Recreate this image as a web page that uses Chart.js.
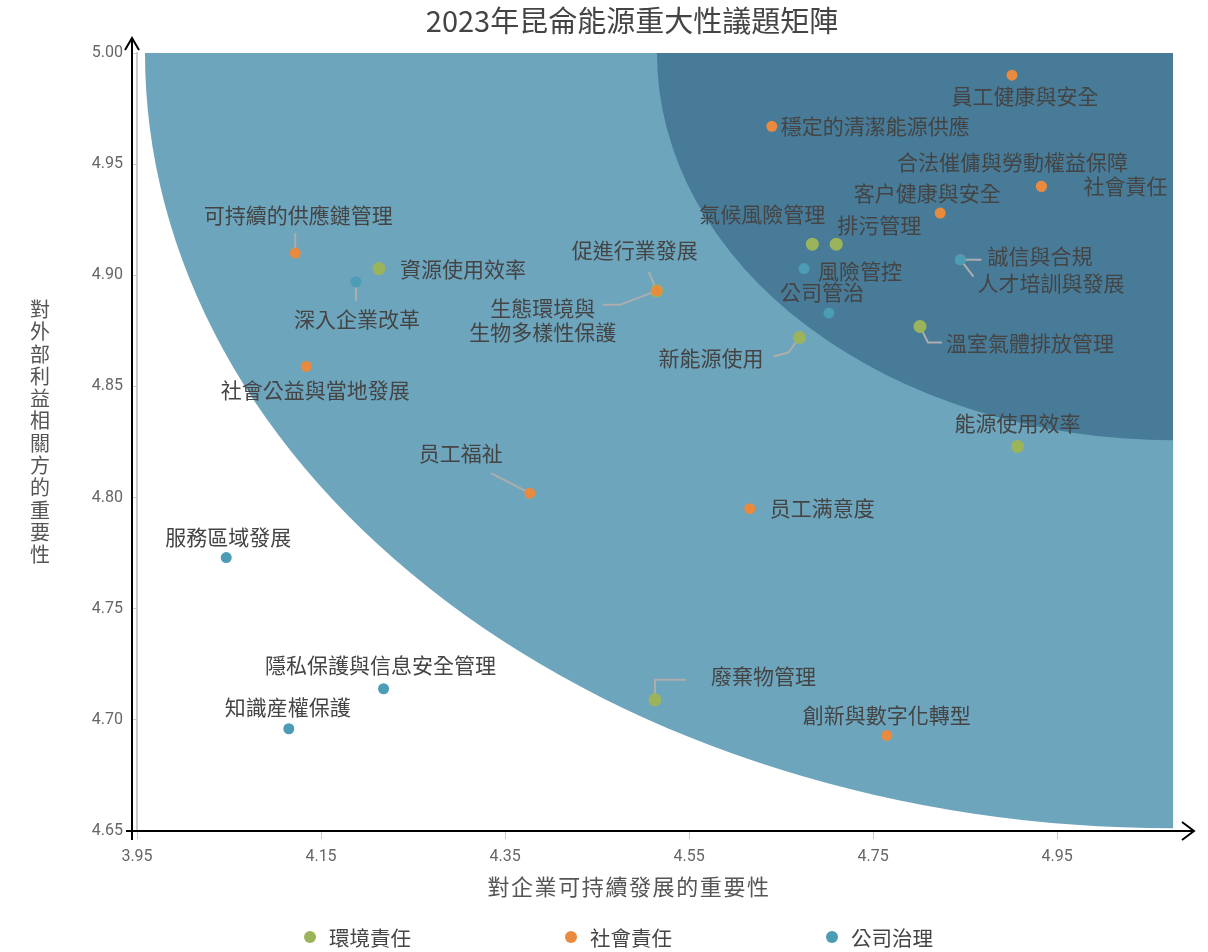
<!DOCTYPE html>
<html>
<head>
<meta charset="utf-8">
<title>2023年昆侖能源重大性議題矩陣</title>
<script src="https://cdn.jsdelivr.net/npm/chart.js@4/dist/chart.umd.min.js"></script>
<style>
  html, body { margin: 0; padding: 0; background: #fff; }
  #wrap { position: relative; width: 1208px; height: 952px; }
  #legend {
    position: absolute; left: 304px; top: 924px;
    display: flex; gap: 154px;
    font: 20.5px "Noto Sans CJK TC", sans-serif; color: #444;
  }
  #legend .item { display: flex; align-items: center; line-height: 26px; }
  #legend .dot { width: 12px; height: 12px; border-radius: 50%; margin-right: 13px; }
</style>
</head>
<body>
<div id="wrap">
  <canvas id="matrixChart"></canvas>
  <div id="legend"></div>
</div>
<script>
// Axis ticks
const xTicks = [3.95, 4.15, 4.35, 4.55, 4.75, 4.95];
const yTicks = [4.65, 4.70, 4.75, 4.80, 4.85, 4.90, 4.95, 5.00];

// Categories (legend)
const categories = ['環境責任', '社會責任', '公司治理'];

// 環境責任
const envNames = ['資源使用效率', '氣候風險管理', '排污管理', '溫室氣體排放管理', '新能源使用', '能源使用效率', '廢棄物管理', '生態環境與生物多樣性保護'];
const envX = [4.213, 4.684, 4.710, 4.801, 4.670, 4.907, 4.513, 4.515];
const envY = [4.903, 4.914, 4.914, 4.877, 4.872, 4.823, 4.709, 4.893];

// 社會責任
const socNames = ['員工健康與安全', '穩定的清潔能源供應', '合法催傭與勞動權益保障', '社會責任', '客户健康與安全', '可持續的供應鏈管理', '促進行業發展', '社會公益與當地發展', '员工福祉', '员工满意度', '創新與數字化轉型', '人才培訓與發展'];
const socX = [4.901, 4.640, 4.933, 4.933, 4.823, 4.122, 4.515, 4.134, 4.377, 4.616, 4.765, 4.845];
const socY = [4.990, 4.967, 4.940, 4.940, 4.928, 4.910, 4.893, 4.859, 4.802, 4.795, 4.693, 4.907];

// 公司治理
const govNames = ['深入企業改革', '風險管控', '公司管治', '誠信與合規', '服務區域發展', '隱私保護與信息安全管理', '知識産權保護'];
const govX = [4.188, 4.675, 4.702, 4.845, 4.047, 4.218, 4.115];
const govY = [4.897, 4.903, 4.883, 4.907, 4.773, 4.714, 4.696];

// Background bands: quarter ellipses around the top-right corner,
// reaching these values on the top edge (x) and right edge (y)
const bandEdgeX = [3.9587, 4.5151];
const bandEdgeY = [4.6512, 4.8258];
const bandColors = ['#6da5bd', '#477b98'];

// Label placement, pixel offsets from the point (text centre unless align says otherwise)
const labelLayout = {
    '資源使用效率': { dx: 21, dy: 0, align: 'left' },
    '氣候風險管理': { dx: -50, dy: -30 },
    '排污管理': { dx: 43, dy: -19 },
    '溫室氣體排放管理': { dx: 26, dy: 17, align: 'left', leader: [[0, 0], [8, 16], [22, 16]] },
    '新能源使用': { dx: -36, dy: 20, align: 'right', leader: [[0, 0], [-11, 15], [-26, 19]] },
    '能源使用效率': { dx: 0, dy: -23 },
    '廢棄物管理': { dx: 56, dy: -24, align: 'left', leader: [[0, 0], [0, -20], [31, -20]] },
    '生態環境與生物多樣性保護': { dx: -114, dy: 29, lines: ['生態環境與', '生物多樣性保護'], leader: [[0, 0], [-37, 14], [-54, 14]] },
    '員工健康與安全': { dx: 13, dy: 21 },
    '穩定的清潔能源供應': { dx: 9, dy: 0, align: 'left' },
    '合法催傭與勞動權益保障': { dx: -29, dy: -24 },
    '社會責任': { dx: 42, dy: 0, align: 'left' },
    '客户健康與安全': { dx: -13, dy: -20 },
    '可持續的供應鏈管理': { dx: 3, dy: -38, leader: [[0, 0], [0, -20]] },
    '促進行業發展': { dx: -22, dy: -41, leader: [[0, 0], [-8, -19]] },
    '社會公益與當地發展': { dx: 9, dy: 24 },
    '员工福祉': { dx: -69, dy: -40, leader: [[0, 0], [-39, -20]] },
    '员工满意度': { dx: 20, dy: -1, align: 'left' },
    '創新與數字化轉型': { dx: 0, dy: -20 },
    '人才培訓與發展': { dx: 17, dy: 23, align: 'left', leader: [[0, 0], [13, 17]] },
    '深入企業改革': { dx: 1, dy: 37, leader: [[0, 0], [0, 19]] },
    '風險管控': { dx: 14, dy: 2, align: 'left' },
    '公司管治': { dx: -7, dy: -21 },
    '誠信與合規': { dx: 27, dy: -4, align: 'left', leader: [[0, 0], [21, 0]] },
    '服務區域發展': { dx: 2, dy: -21 },
    '隱私保護與信息安全管理': { dx: -3, dy: -24 },
    '知識産權保護': { dx: -1, dy: -22 },
};

const green = '#9bb45b';
const orange = '#e98a3f';
const blue = '#4b9cb4';
const textColor = '#444';
const cjkFont = '"Noto Sans CJK TC", "Noto Sans CJK SC", sans-serif';

function toPoints(xs, ys) {
    return xs.map((x, i) => ({ x: x, y: ys[i] }));
}

function categorySet(label, names, xs, ys, color, radius, order) {
    return {
        label: label,
        names: names,
        data: toPoints(xs, ys),
        backgroundColor: color,
        borderColor: color,
        pointRadius: radius,
        pointHoverRadius: radius,
        pointBorderWidth: 0,
        order: order,
    };
}

function drawBands(chart) {
    const ctx = chart.ctx;
    const area = chart.chartArea;
    const xs = chart.scales.x, ys = chart.scales.y;
    const cx = xs.getPixelForValue(xs.max);
    const cy = ys.getPixelForValue(ys.max);
    ctx.save();
    ctx.beginPath();
    ctx.rect(area.left, area.top, area.right - area.left, area.bottom - area.top);
    ctx.clip();
    bandEdgeX.forEach((ex, i) => {
        const rx = cx - xs.getPixelForValue(ex);
        const ry = ys.getPixelForValue(bandEdgeY[i]) - cy;
        ctx.beginPath();
        ctx.ellipse(cx, cy, rx, ry, 0, 0, Math.PI * 2);
        ctx.fillStyle = bandColors[i];
        ctx.fill();
    });
    ctx.restore();
}

function drawLeaders(chart) {
    const ctx = chart.ctx;
    ctx.save();
    ctx.strokeStyle = '#adadad';
    ctx.lineWidth = 2;
    chart.data.datasets.forEach((ds, i) => {
        const meta = chart.getDatasetMeta(i);
        ds.names.forEach((name, j) => {
            const lay = labelLayout[name];
            const el = meta.data[j];
            if (!lay || !lay.leader || !el) return;
            ctx.beginPath();
            lay.leader.forEach((p, k) => {
                if (k === 0) ctx.moveTo(el.x + p[0], el.y + p[1]);
                else ctx.lineTo(el.x + p[0], el.y + p[1]);
            });
            ctx.stroke();
        });
    });
    ctx.restore();
}

function drawLabels(chart) {
    const ctx = chart.ctx;
    ctx.save();
    ctx.font = '21px ' + cjkFont;
    ctx.fillStyle = textColor;
    ctx.textBaseline = 'middle';
    chart.data.datasets.forEach((ds, i) => {
        const meta = chart.getDatasetMeta(i);
        ds.names.forEach((name, j) => {
            const lay = labelLayout[name] || { dx: 0, dy: -20 };
            const el = meta.data[j];
            const lines = lay.lines || [name];
            ctx.textAlign = lay.align || 'center';
            lines.forEach((line, k) => {
                const off = (k - (lines.length - 1) / 2) * 24;
                ctx.fillText(line, el.x + lay.dx, el.y + lay.dy + off);
            });
        });
    });
    ctx.restore();
}

function drawAxesAndTitles(chart) {
    const ctx = chart.ctx;
    const { left, right, top, bottom } = chart.chartArea;
    const ax = left - 5;
    ctx.save();
    ctx.strokeStyle = '#000';
    ctx.lineWidth = 2;
    // y axis with arrow
    ctx.beginPath();
    ctx.moveTo(ax, bottom + 9);
    ctx.lineTo(ax, top - 15);
    ctx.stroke();
    ctx.beginPath();
    ctx.moveTo(ax - 7, top - 3);
    ctx.lineTo(ax, top - 15);
    ctx.lineTo(ax + 7, top - 3);
    ctx.stroke();
    // x axis with arrow
    ctx.beginPath();
    ctx.moveTo(ax - 6, bottom);
    ctx.lineTo(right + 21, bottom);
    ctx.stroke();
    ctx.beginPath();
    ctx.moveTo(right + 9, bottom - 9);
    ctx.lineTo(right + 21, bottom);
    ctx.lineTo(right + 9, bottom + 9);
    ctx.stroke();

    // axis titles
    ctx.fillStyle = '#555';
    ctx.textAlign = 'center';
    ctx.textBaseline = 'middle';
    ctx.font = '22px ' + cjkFont;
    ctx.letterSpacing = '1.6px';
    ctx.fillText('對企業可持續發展的重要性', 629, 887);
    ctx.letterSpacing = '0px';
    ctx.font = '20px ' + cjkFont;
    const yTitle = Array.from('對外部利益相關方的重要性');
    yTitle.forEach((ch, k) => {
        ctx.fillText(ch, 40, 432 + (k - (yTitle.length - 1) / 2) * 22.3);
    });
    ctx.restore();
}

const matrixDecor = {
    id: 'matrixDecor',
    beforeDatasetsDraw(chart) {
        drawBands(chart);
        drawLeaders(chart);
    },
    afterDatasetsDraw(chart) {
        drawLabels(chart);
    },
    afterDraw(chart) {
        drawAxesAndTitles(chart);
    },
};

const htmlLegend = {
    id: 'htmlLegend',
    afterUpdate(chart) {
        const box = document.getElementById('legend');
        box.innerHTML = '';
        const items = chart.options.plugins.legend.labels.generateLabels(chart)
            .sort((a, b) => a.datasetIndex - b.datasetIndex);
        items.forEach(it => {
            const item = document.createElement('div');
            item.className = 'item';
            const dot = document.createElement('span');
            dot.className = 'dot';
            dot.style.background = it.fillStyle;
            const txt = document.createElement('span');
            txt.textContent = it.text;
            item.appendChild(dot);
            item.appendChild(txt);
            box.appendChild(item);
        });
    },
};

const chart = new Chart(document.getElementById('matrixChart'), {
    type: 'scatter',
    data: {
        datasets: [
            categorySet(categories[0], envNames, envX, envY, green, 6.5, 3),
            categorySet(categories[1], socNames, socX, socY, orange, 5.5, 2),
            categorySet(categories[2], govNames, govX, govY, blue, 5.5, 1),
        ],
    },
    options: {
        responsive: true,
        maintainAspectRatio: false,
        animation: false,
        layout: { padding: { left: 91, right: 35, top: 0, bottom: 0 } },
        plugins: {
            legend: { display: false },
            tooltip: { enabled: false },
            title: {
                display: true,
                text: '2023年昆侖能源重大性議題矩陣',
                color: textColor,
                font: { size: 29, weight: 'normal', family: cjkFont, lineHeight: 1.2 },
                padding: { top: 4, bottom: 14.2 },
            },
        },
        scales: {
            x: {
                type: 'linear',
                min: 3.95,
                max: 5.076,
                afterBuildTicks: s => { s.ticks = xTicks.map(v => ({ value: v })); },
                afterFit: s => { s.height = 121; },
                ticks: {
                    callback: v => Number(v).toFixed(2),
                    color: '#666',
                    font: { size: 16, family: 'Roboto, sans-serif' },
                    padding: 8,
                    maxRotation: 0,
                    autoSkip: false,
                },
                grid: { drawOnChartArea: false, tickLength: 8, tickColor: '#ccc', lineWidth: 1 },
                border: { display: true, color: '#ccc', width: 2 },
            },
            y: {
                type: 'linear',
                min: 4.65,
                max: 5.00,
                afterBuildTicks: s => { s.ticks = yTicks.map(v => ({ value: v })); },
                afterFit: s => { s.width = 46; },
                ticks: {
                    callback: v => Number(v).toFixed(2),
                    color: '#666',
                    font: { size: 16, family: 'Roboto, sans-serif' },
                    padding: 9,
                    autoSkip: false,
                },
                grid: { drawOnChartArea: false, tickLength: 5, tickColor: '#ccc', lineWidth: 1 },
                border: { display: true, color: '#ccc', width: 2 },
            },
        },
    },
    plugins: [matrixDecor, htmlLegend],
});
</script>
</body>
</html>
